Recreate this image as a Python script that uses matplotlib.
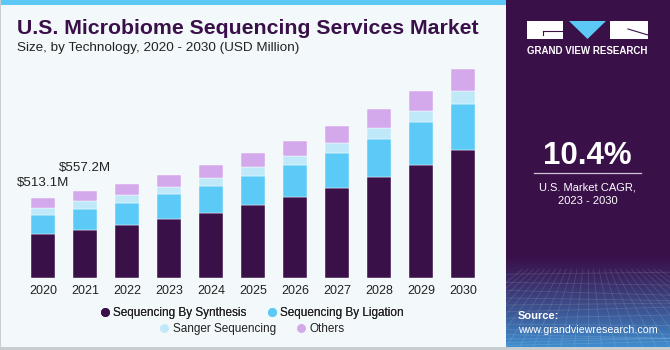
import matplotlib
matplotlib.use("Agg")
import matplotlib.pyplot as plt
import numpy as np
from matplotlib.patches import Rectangle, Polygon
from matplotlib.lines import Line2D

plt.rcParams['font.family'] = ['Liberation Sans', 'DejaVu Sans']

years = ['2020', '2021', '2022', '2023', '2024', '2025', '2026', '2027', '2028', '2029', '2030']
synthesis = [279, 309, 337, 375, 417, 466, 515, 575, 645, 722, 818]
ligation = [123, 133, 144, 160, 173, 183, 204, 226, 245, 275, 296]
sanger = [45, 47, 51, 47, 49, 58, 62, 62, 68, 72, 81]
others = [66, 68, 71, 78, 85, 89, 96, 108, 119, 128, 141]
series_names = ['Sequencing By Synthesis', 'Sequencing By Ligation', 'Sanger Sequencing', 'Others']
series_colors = ['#3a1049', '#5bcaf6', '#bfe9f9', '#d4a9eb']
annotations = {0: '$513.1M', 1: '$557.2M'}

W, H = 670, 350
fig = plt.figure(figsize=(W / 100, H / 100), dpi=100)
fig.patch.set_facecolor('#f3f8fb')

def fx(px):
    return px / W

def fy(py):
    return 1 - py / H

# background panels
bg = fig.add_axes([0, 0, 1, 1], zorder=0)
bg.set_xlim(0, W)
bg.set_ylim(H, 0)
bg.axis('off')
bg.add_patch(Rectangle((0, 0), 506, 5, color='#5bc8f5', lw=0))
bg.add_patch(Rectangle((0, 0), 1.2, H, color='#c8cdd2', lw=0))
bg.add_patch(Rectangle((0, 347), W, 3, color='#c8cdd2', lw=0))
bg.add_patch(Rectangle((506, 0), W - 506, 347, color='#3a1049', lw=0))

# gradient bottom of right panel
gax = fig.add_axes([fx(506), fy(347), fx(W - 506), (347 - 250) / H], zorder=1)
grad = np.linspace(0, 1, 200)[:, None]
c0 = np.array([0x3a, 0x10, 0x49]) / 255
c1 = np.array([0x3f, 0x8e, 0xcf]) / 255
g = np.clip((grad - 0.05) / 0.95, 0, 1) ** 1.2
img = c0[None, None, :] * (1 - g[..., None]) + c1[None, None, :] * g[..., None]
img = np.repeat(img, 10, axis=1)
gax.imshow(img, aspect='auto', extent=[0, 1, 0, 1], origin='upper')
for i in range(14):
    y0 = (i / 13) ** 1.5 * 0.75
    gax.plot([0, 1], [y0, y0 + 0.05 * np.sin(i)], color='white', alpha=0.12, lw=0.6)
for i in range(-6, 20):
    x0 = i / 12
    gax.plot([x0, 0.5 + (x0 - 0.5) * 0.4], [0, 0.8], color='white', alpha=0.12, lw=0.6)
gax.set_xlim(0, 1)
gax.set_ylim(0, 1)
gax.axis('off')

# chart axes
ax = fig.add_axes([fx(22), fy(278), fx(484 - 22), (278 - 60) / H], zorder=2)
ax.set_facecolor('none')
x = np.arange(len(years))
bottom = np.zeros(len(years))
for vals, col in zip([synthesis, ligation, sanger, others], series_colors):
    ax.bar(x, vals, bottom=bottom, width=0.58, color=col, edgecolor='#ffffff', linewidth=0.3)
    bottom += np.array(vals)
ax.set_xlim(-0.5, len(years) - 0.5)
ax.set_ylim(0, 1393)
ax.set_xticks(x)
ax.set_xticklabels(years, fontsize=9, color='#222222')
ax.tick_params(axis='x', length=0, pad=5)
ax.set_yticks([])
for s in ax.spines.values():
    s.set_visible(False)

ax.text(0 - 0.62, bottom[0] + 91, annotations[0], ha='left', va='center', fontsize=9.6, color='#222222')
ax.text(1 - 0.62, bottom[1] + 146, annotations[1], ha='left', va='center', fontsize=9.6, color='#222222')

# title
fig.text(fx(17), fy(28), 'U.S. Microbiome Sequencing Services Market', fontsize=15.3, fontweight='bold',
         color='#3a1049', va='center', ha='left')
fig.text(fx(17), fy(48), 'Size, by Technology, 2020 - 2030 (USD Million)', fontsize=9.7, color='#222222',
         va='center', ha='left')

# legend, two centred rows
handles = [Line2D([0], [0], marker='o', color='none', markerfacecolor=c, markeredgecolor=c, markersize=5.4)
           for c in series_colors]
common = dict(loc='center', ncol=2, frameon=False, fontsize=8.5, handletextpad=0.35, columnspacing=1.7,
              handlelength=0.8, borderpad=0, borderaxespad=0)
leg1 = fig.legend(handles[:2], series_names[:2], bbox_to_anchor=(fx(252), fy(313)), **common)
fig.add_artist(leg1)
leg2 = fig.legend(handles[2:], series_names[2:], bbox_to_anchor=(fx(252), fy(329)), **common)
for lg in (leg1, leg2):
    for t in lg.get_texts():
        t.set_color('#222222')

# right panel logo
bg.add_patch(Rectangle((527, 21), 36, 18, color='white', lw=0))
bg.add_patch(Polygon([[569, 21], [606, 21], [587.5, 39]], closed=True, color='#5bc8f5', lw=0))
bg.add_patch(Rectangle((610, 21), 38, 18, color='white', lw=0))
bg.plot([543, 563], [31, 31], color='#3a1049', lw=0.8)
bg.plot([543, 543], [31, 35], color='#3a1049', lw=0.8)
bg.plot([628, 648], [29, 35], color='#3a1049', lw=0.8)
bg.text(587.5, 51, 'GRAND VIEW RESEARCH', color='white', fontsize=7, fontweight='bold',
        ha='center', va='center')

bg.text(587.5, 156, '10.4%', color='white', fontsize=22.5, fontweight='bold', ha='center', va='center')
bg.plot([534, 641], [173, 173], color='#cfc6d6', lw=0.9)
bg.text(587.5, 187, 'U.S. Market CAGR,', color='white', fontsize=8, ha='center', va='center')
bg.text(587.5, 201, '2023 - 2030', color='white', fontsize=8, ha='center', va='center')

fig.text(fx(518), fy(316), 'Source:', color='white', fontsize=8, fontweight='bold', ha='left', va='center',
         zorder=5)
fig.text(fx(518), fy(330), 'www.grandviewresearch.com', color='white', fontsize=7.7, ha='left', va='center',
         zorder=5)

fig.savefig('out.png', dpi=100, facecolor=fig.get_facecolor())
